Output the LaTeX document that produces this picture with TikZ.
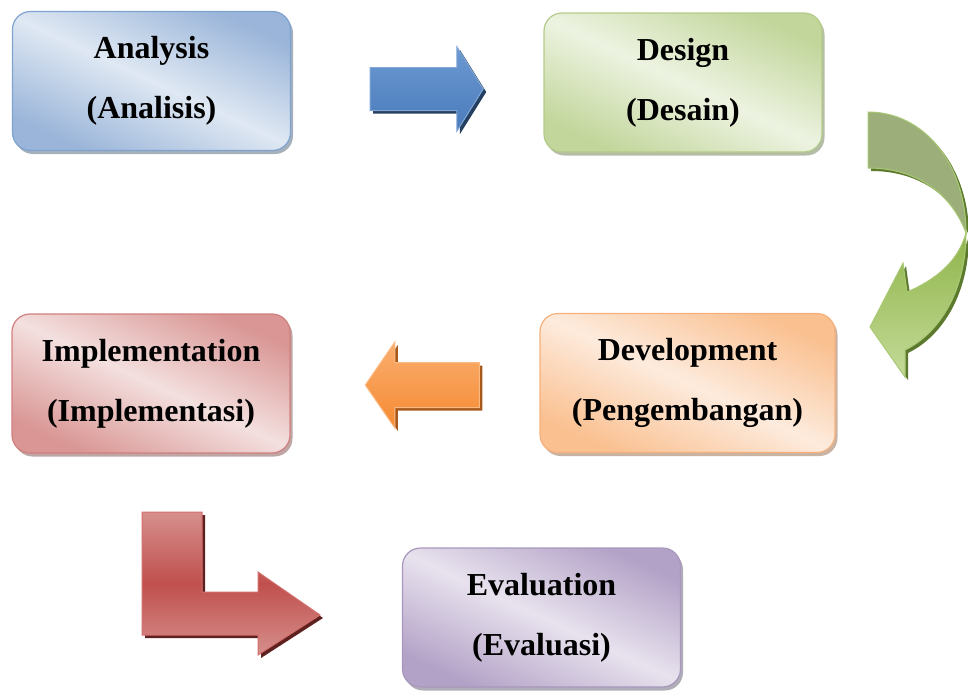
\documentclass[tikz,border=0pt]{standalone}
\usepackage{fontspec}
\setmainfont{Liberation Serif}
\usepackage{xcolor}
\usetikzlibrary{shapes.arrows,shadows,positioning,calc}

\definecolor{anaDark}{HTML}{9AB5D9}\definecolor{anaLight}{HTML}{DFE8F3}\definecolor{anaEdge}{HTML}{7FA3CF}
\definecolor{desDark}{HTML}{C2D69B}\definecolor{desLight}{HTML}{EDF3E1}\definecolor{desEdge}{HTML}{B3CB88}
\definecolor{impDark}{HTML}{D99694}\definecolor{impLight}{HTML}{F3E0DF}\definecolor{impEdge}{HTML}{D0807E}
\definecolor{devDark}{HTML}{FAC090}\definecolor{devLight}{HTML}{FDEBDD}\definecolor{devEdge}{HTML}{F6B07C}
\definecolor{evaDark}{HTML}{B3A2C7}\definecolor{evaLight}{HTML}{E8E2EE}\definecolor{evaEdge}{HTML}{A798BC}
\definecolor{bluTop}{HTML}{6B99D2}\definecolor{bluBot}{HTML}{4A7BBA}\definecolor{bluEdge}{HTML}{80A6D6}\definecolor{bluShade}{HTML}{243F60}
\definecolor{ornTop}{HTML}{FAAE6F}\definecolor{ornBot}{HTML}{F58A32}\definecolor{ornEdge}{HTML}{FBB982}\definecolor{ornShade}{HTML}{A85A1E}
\definecolor{redLight}{HTML}{D68F8D}\definecolor{redMid}{HTML}{C0504D}\definecolor{redEdge}{HTML}{D16F6C}\definecolor{redShade}{HTML}{5E2120}
\definecolor{grnBack}{HTML}{9CAF7A}\definecolor{grnTop}{HTML}{8FB44A}\definecolor{grnBot}{HTML}{C4DB98}\definecolor{grnEdge}{HTML}{A9C873}\definecolor{grnShade}{HTML}{5C7A2E}

\begin{document}
\begin{tikzpicture}[
    x=1pt, y=-1pt,
    font=\bfseries\fontsize{32}{60}\selectfont,
    phase/.style={draw=#1Edge, line width=1.2pt, rounded corners=18pt, align=center,
        minimum width=278pt, minimum height=139pt, inner sep=0pt,
        top color=#1Dark, bottom color=#1Dark, middle color=#1Light, shading angle=-25,
        drop shadow={shadow xshift=2.5pt, shadow yshift=-3.5pt, fill=#1Edge!60!black, opacity=0.5}},
    blockarrow/.style={single arrow, draw=#1Edge, line width=1pt, inner xsep=0pt,
        top color=#1Top, bottom color=#1Bot, single arrow head indent=0pt,
        drop shadow={shadow xshift=3pt, shadow yshift=-3pt, fill=#1Shade, opacity=1}}
]
\useasboundingbox (0,0) rectangle (968,691);

\node[phase=ana] (analysis) at (151.5,81) {Analysis\\(Analisis)};
\node[phase=des] (design) at (683,82.5) {Design\\(Desain)};
\node[phase=dev, minimum width=295pt] (development) at (687.5,383) {Development\\(Pengembangan)};
\node[phase=imp] (implementation) at (151,383.5) {Implementation\\(Implementasi)};
\node[phase=eva] (evaluation) at (541.5,617.5) {Evaluation\\(Evaluasi)};

\node[blockarrow=blu, inner ysep=21pt, minimum height=113pt, minimum width=83pt,
    single arrow head extend=20.5pt, single arrow tip angle=116] (toDesign) at (420,89) {};
\node[blockarrow=orn, inner ysep=22pt, minimum height=114pt, minimum width=85pt, shape border rotate=180,
    single arrow head extend=20.5pt, single arrow tip angle=111] (toImplementation) at (430,385) {};

% curved arrow from design down to development
\path[draw=grnEdge, line width=1pt, top color=grnTop, bottom color=grnBot,
    drop shadow={shadow xshift=3pt, shadow yshift=-3pt, fill=grnShade, opacity=1}]
    (966,233) .. controls (966,290) and (940,333) .. (905,350) -- (905,377) -- (870,327)
    -- (903,263) -- (907,292) .. controls (935,280) and (958,262) .. (966,233) -- cycle;
\path[draw=grnEdge, line width=1pt, fill=grnBack,
    drop shadow={shadow xshift=3pt, shadow yshift=-3pt, fill=grnShade, opacity=1}]
    (868,112) .. controls (925,112) and (966,165) .. (966,233)
    .. controls (952,195) and (918,168) .. (868,168) -- cycle;

% bent arrow from implementation to evaluation
\path[draw=redEdge, line width=1pt, top color=redLight, bottom color=redLight, middle color=redMid,
    drop shadow={shadow xshift=3pt, shadow yshift=-3pt, fill=redShade, opacity=1}]
    (142,512) -- (202,512) -- (202,592) -- (258,592) -- (258,572) -- (320,615)
    -- (258,655) -- (258,635) -- (142,635) -- cycle;
\end{tikzpicture}
\end{document}
